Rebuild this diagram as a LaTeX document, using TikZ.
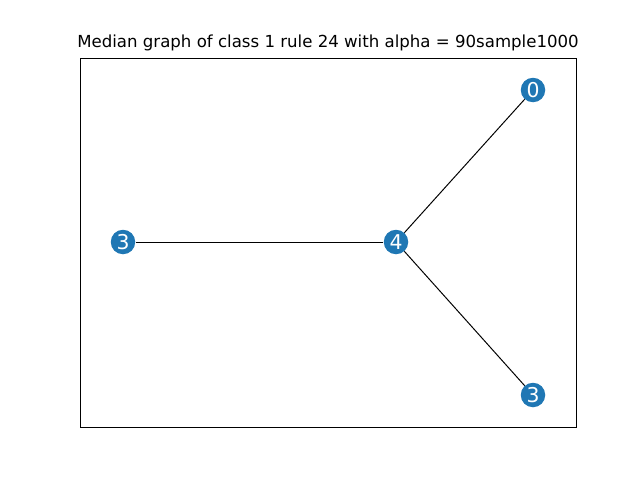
\documentclass[tikz,border=0pt]{standalone}
\usepackage{fontspec}
\setmainfont{DejaVu Sans}
\begin{document}
\begin{tikzpicture}[x=0.025cm,y=-0.025cm,
                    vertex/.style = {circle,fill={rgb,255:red,31;green,119;blue,180},inner sep=0pt,minimum size=24.5*0.025cm,text=white,font=\fontsize{14.5}{15}\selectfont},
                    edge/.style = {black,line width=0.7pt}]
                    % page and axes
                    \useasboundingbox (0,0) rectangle (640,480);
                    \draw[line width=0.57pt] (80,58) rectangle (576,427);
                    \node (title) at (328,43) {\fontsize{11.8}{12}\selectfont Median graph of class 1 rule 24 with alpha = 90sample1000};

                    % graph
                    \node [vertex] (n0) at (533,90) {0};
                    \node [vertex] (n3a) at (123,242) {3};
                    \node [vertex] (n4) at (396,242) {4};
                    \node [vertex] (n3b) at (533,395) {3};

                    \draw[edge] (n4) -- (n0);
                    \draw[edge] (n4) -- (n3a);
                    \draw[edge] (n4) -- (n3b);
                \end{tikzpicture}
\end{document}
